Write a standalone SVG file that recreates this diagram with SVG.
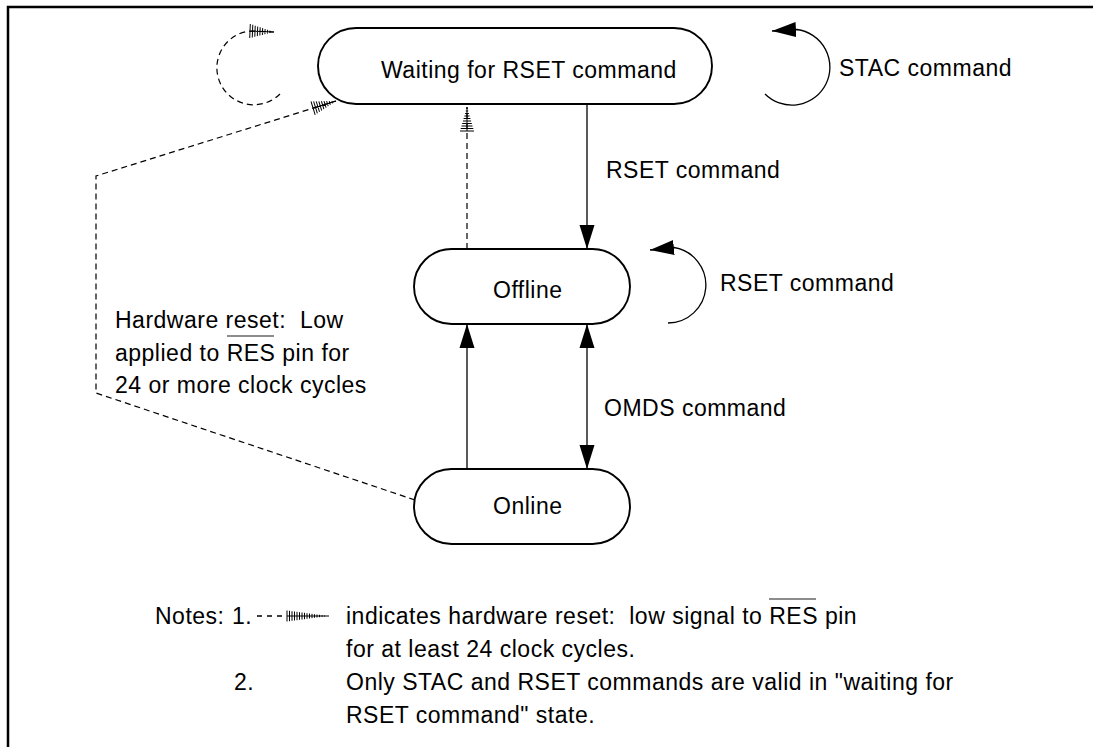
<svg xmlns="http://www.w3.org/2000/svg" width="1093" height="747" viewBox="0 0 1093 747">
  <style>
    .t { font-family: "Liberation Sans", Arial, Helvetica, sans-serif; font-size: 23px; letter-spacing: 0.5px; fill: #000; white-space: pre; }
    .node { fill: #fff; stroke: #000; stroke-width: 1.9; }
    .line { fill: none; stroke: #000; stroke-width: 1.3; }
    .dash { fill: none; stroke: #000; stroke-width: 1.2; stroke-dasharray: 6 4; }
    .bar { stroke: #666; stroke-width: 1.5; }
    .frame { stroke: #000; stroke-width: 2.5; fill: none; }
    .hatchlines { fill: none; stroke: #000; stroke-width: 1; }
  </style>
  <defs>
    <!-- solid filled arrowhead, tip at path end -->
    <marker id="arrow" markerUnits="userSpaceOnUse" viewBox="0 -8 24 16" markerWidth="24" markerHeight="16" refX="24" refY="0" orient="auto-start-reverse">
      <path d="M0,-7.5 L24,0 L0,7.5 Z" fill="#000"/>
    </marker>
    <!-- hatched arrowhead used for the hardware-reset transitions -->
    <marker id="hatch" markerUnits="userSpaceOnUse" viewBox="-1 -8 27 16" markerWidth="27" markerHeight="16" refX="24" refY="0" orient="auto">
      <path class="hatchlines" d="M0,0H24 M0,-7V7 M2.5,-6.3V6.3 M5,-5.5V5.5 M7.5,-4.8V4.8 M10,-4.1V4.1 M12.5,-3.4V3.4 M15,-2.6V2.6 M17.5,-1.9V1.9 M20,-1.2V1.2 M22.5,-0.5V0.5"/>
    </marker>
  </defs>

  <!-- page frame -->
  <path class="frame" d="M1093,7 H8 V747"/>

  <!-- connectors -->
  <g id="connectors">
    <!-- RSET command: waiting -> offline -->
    <line class="line" x1="587" y1="104" x2="587" y2="249" marker-end="url(#arrow)"/>
    <!-- online -> offline -->
    <line class="line" x1="467" y1="469" x2="467" y2="324" marker-end="url(#arrow)"/>
    <!-- OMDS command: offline <-> online -->
    <line class="line" x1="587" y1="324" x2="587" y2="469" marker-start="url(#arrow)" marker-end="url(#arrow)"/>
    <!-- hardware reset: offline -> waiting -->
    <line class="dash" x1="467" y1="249" x2="467" y2="107" marker-end="url(#hatch)"/>
    <!-- hardware reset: online -> waiting -->
    <path class="dash" d="M415,500 L96,393 V176 L336,101" marker-end="url(#hatch)"/>
    <!-- hardware reset self-loop on waiting -->
    <path class="dash" d="M280,94 A37,37 0 1 1 250,31 L274,32" marker-end="url(#hatch)"/>
    <!-- STAC command self-loop -->
    <path class="line" d="M765,94 A38,38 0 1 0 797,29.5 L772,31" marker-end="url(#arrow)"/>
    <!-- RSET command self-loop on offline -->
    <path class="line" d="M668,323 A38,38 0 0 0 674,247.5 L650,250" marker-end="url(#arrow)"/>
  </g>

  <g id="node-waiting">
    <rect class="node" x="318" y="28" width="394" height="76" rx="38" ry="38"/>
    <text class="t" x="381" y="78">Waiting for RSET command</text>
  </g>
  <g id="node-offline">
    <rect class="node" x="414" y="249" width="216" height="75" rx="37.5" ry="37.5"/>
    <text class="t" x="493" y="298">Offline</text>
  </g>
  <g id="node-online">
    <rect class="node" x="414" y="469" width="216" height="75" rx="37.5" ry="37.5"/>
    <text class="t" x="493" y="514">Online</text>
  </g>

  <!-- transition labels -->
  <g id="labels">
    <text class="t" x="839" y="76">STAC command</text>
    <text class="t" x="606" y="178">RSET command</text>
    <text class="t" x="720" y="291">RSET command</text>
    <text class="t" x="604" y="416">OMDS command</text>
    <text class="t" x="115" y="328" xml:space="preserve">Hardware reset:  Low</text>
    <text class="t" x="115" y="361">applied to RES pin for</text>
    <line class="bar" x1="227" y1="336" x2="274" y2="336"/>
    <text class="t" x="115" y="393">24 or more clock cycles</text>
  </g>

  <!-- notes -->
  <g id="notes">
    <text class="t" x="155" y="624">Notes:</text>
    <text class="t" x="232" y="624">1.</text>
    <!-- legend symbol: dashed stroke with hatched head -->
    <path class="line" d="M257,616 h5 M267,616 h5 M277,616 h5" stroke-width="1"/>
    <path class="hatchlines" d="M287,616 H329 M287,610.5 V621.5 M289.5,610.8 V621.2 M292,611.2 V620.8 M294.5,611.5 V620.5 M297,611.8 V620.2 M299.5,612.2 V619.8 M302,612.5 V619.5 M304.5,612.8 V619.2 M307,613.2 V618.8 M309.5,613.5 V618.5 M312,613.8 V618.2 M314.5,614.2 V617.8 M317,614.5 V617.5 M319.5,614.8 V617.2 M322,615.2 V616.8 M324.5,615.5 V616.5"/>
    <text class="t" x="346" y="624" xml:space="preserve">indicates hardware reset:  low signal to RES pin</text>
    <line class="bar" x1="769" y1="599" x2="816" y2="599"/>
    <text class="t" x="346" y="657">for at least 24 clock cycles.</text>
    <text class="t" x="234" y="690">2.</text>
    <text class="t" x="346" y="690">Only STAC and RSET commands are valid in "waiting for</text>
    <text class="t" x="346" y="723">RSET command" state.</text>
  </g>
</svg>
